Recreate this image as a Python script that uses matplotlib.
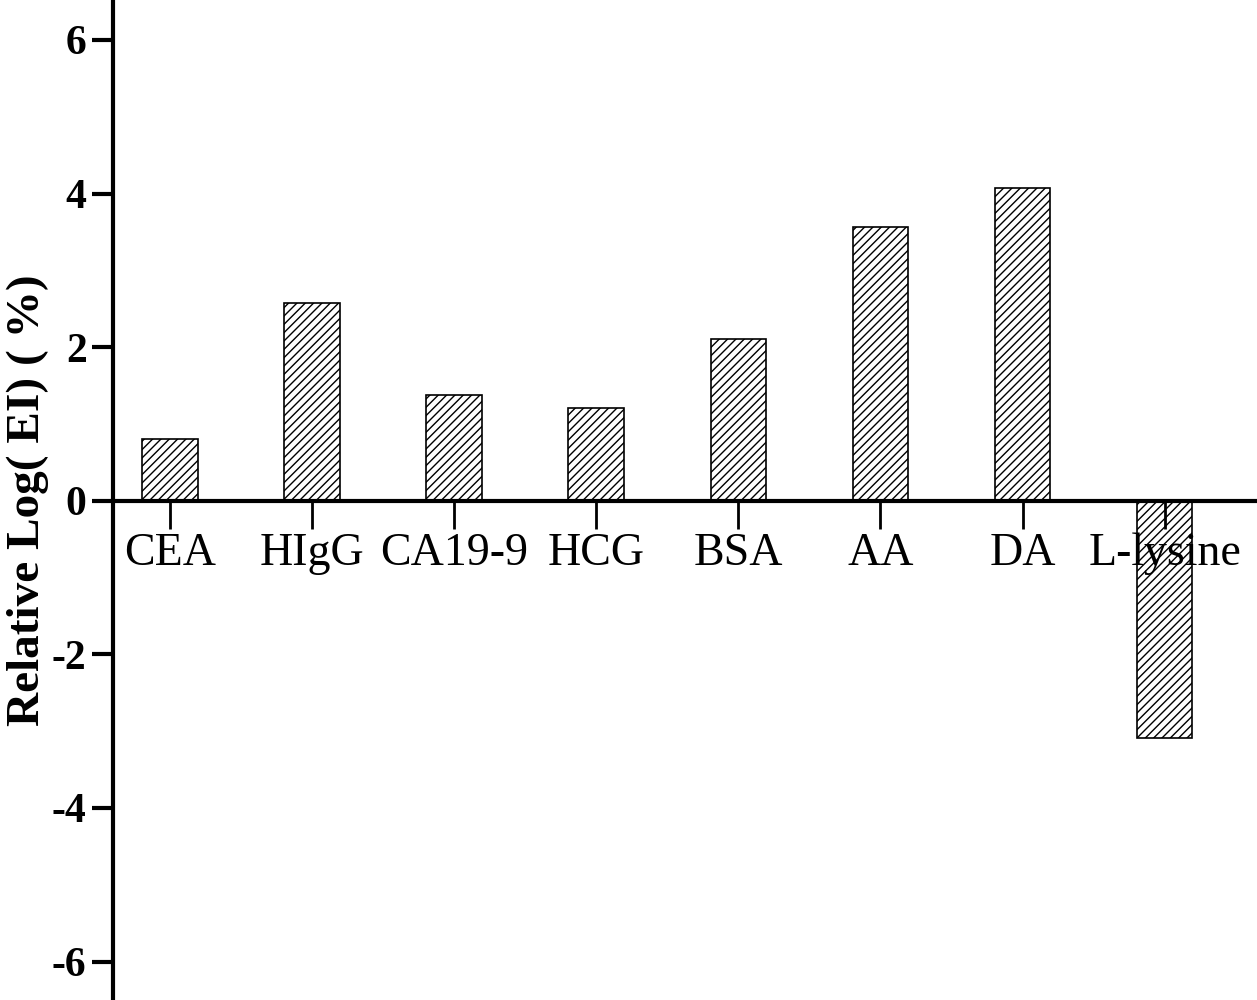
import matplotlib
matplotlib.use('Agg')
import matplotlib.pyplot as plt

categories = ['CEA', 'HIgG', 'CA19-9', 'HCG', 'BSA', 'AA', 'DA', 'L-lysine']
values = [0.81, 2.57, 1.38, 1.21, 2.10, 3.56, 4.07, -3.09]
yticks = [-6, -4, -2, 0, 2, 4, 6]

plt.rcParams['font.family'] = ['Liberation Serif', 'DejaVu Serif']
plt.rcParams['hatch.linewidth'] = 1.0

fig = plt.figure(figsize=(12.57, 10), dpi=100)
ax = fig.add_axes([0.0899, 0.0, 0.9101, 1.0])

x = list(range(len(categories)))
ax.bar(x, values, width=0.39, color='white', edgecolor='black',
       hatch='////', linewidth=1.2)

ax.set_xlim(-0.4, 7.65)
ax.set_ylim(-6.5, 6.52)

ax.spines['top'].set_visible(False)
ax.spines['right'].set_visible(False)
ax.spines['bottom'].set_position(('data', 0))
ax.spines['left'].set_linewidth(3)
ax.spines['bottom'].set_linewidth(3)

ax.set_xticks(x)
ax.set_xticklabels(categories, fontsize=33)
ax.tick_params(axis='x', direction='out', length=20, width=2, pad=3)
ax.set_yticks(yticks)
ax.set_yticklabels([str(t) for t in yticks], fontsize=30, fontweight='bold')
ax.tick_params(axis='y', direction='out', length=15, width=3, pad=4)

fig.text(0.022, 0.5, 'Relative Log( EI) ( %)', rotation=90, fontsize=34,
         fontweight='bold', ha='center', va='center')

fig.savefig('out.png', dpi=100)
